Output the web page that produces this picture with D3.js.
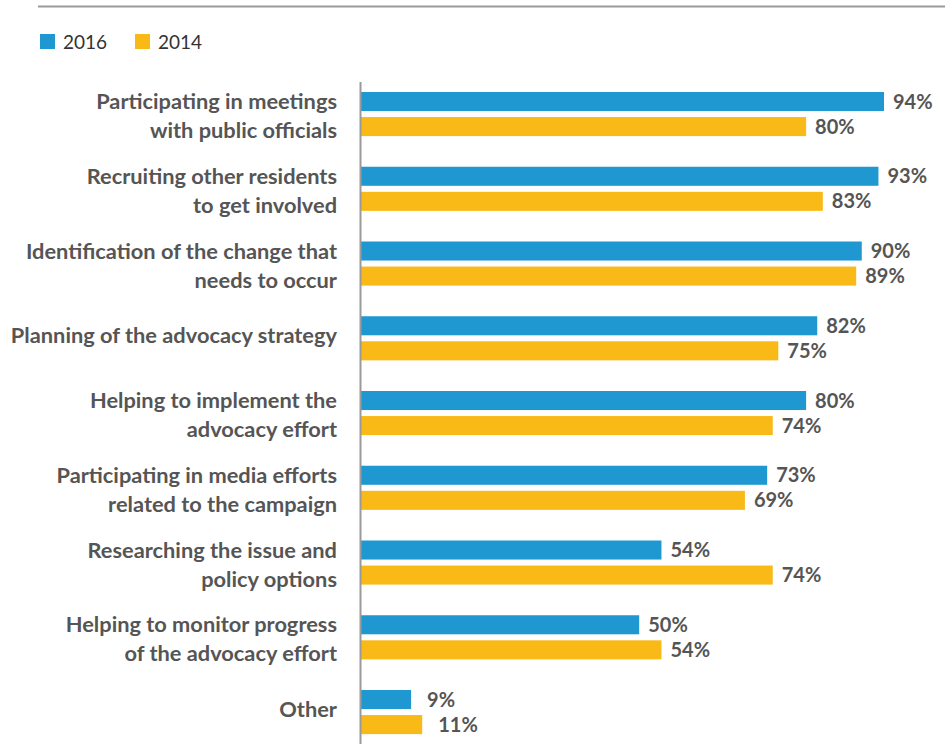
<!DOCTYPE html>
<html lang="en">
<head>
    <meta charset="UTF-8">
    <title>Advocacy activities 2016 vs 2014</title>
    <script src="https://d3js.org/d3.v7.min.js"></script>
    <style>
        body { margin: 0; background: #fff; }
        svg { display: block; }
        .cat { font-family: Lato, sans-serif; font-weight: 700; font-size: 21.8px; fill: #555; }
        .val { font-family: Lato, sans-serif; font-weight: 700; font-size: 20px; fill: #555; }
        .leg { font-family: Lato, sans-serif; font-size: 19px; fill: #333; }
    </style>
</head>
<body>
    <script>
        // Categories (label lines) and values
        const categories = [
            ["Participating in meetings", "with public officials"],
            ["Recruiting other residents", "to get involved"],
            ["Identification of the change that", "needs to occur"],
            ["Planning of the advocacy strategy"],
            ["Helping to implement the", "advocacy effort"],
            ["Participating in media efforts", "related to the campaign"],
            ["Researching the issue and", "policy options"],
            ["Helping to monitor progress", "of the advocacy effort"],
            ["Other"]
        ];
        const series = ["2016", "2014"];
        const values2016 = [94, 93, 90, 82, 80, 73, 54, 50, 9];
        const values2014 = [80, 83, 89, 75, 74, 69, 74, 54, 11];
        const colors = { "2016": "#1f98d2", "2014": "#f9b917" };

        const width = 945, height = 744;
        const svg = d3.select("body").append("svg")
            .attr("width", width)
            .attr("height", height);

        // Top rule
        svg.append("line")
            .attr("x1", 38).attr("x2", width)
            .attr("y1", 6.5).attr("y2", 6.5)
            .attr("stroke", "#9a9a9a")
            .attr("stroke-width", 2);

        // Legend
        const legend = svg.append("g").attr("transform", "translate(40,34)");
        const legItems = legend.selectAll("g")
            .data(series)
            .join("g")
            .attr("transform", (d, i) => `translate(${i * 95},0)`);
        legItems.append("rect")
            .attr("width", 15).attr("height", 15)
            .attr("fill", d => colors[d]);
        legItems.append("text")
            .attr("class", "leg")
            .attr("x", 23).attr("y", 15)
            .text(d => d);

        // Scales
        const x0 = 361;
        const x = d3.scaleLinear().domain([0, 100]).range([x0, x0 + 556.4]);

        const step = 74.75, pad = 0.41;
        const y = d3.scaleBand()
            .domain(d3.range(categories.length))
            .range([92, 92 + step * (categories.length - pad)])
            .paddingInner(pad)
            .paddingOuter(0);

        const yInner = d3.scaleBand()
            .domain(series)
            .range([0, y.bandwidth()])
            .paddingInner(0.24);

        const rows = categories.map((c, i) => ({
            i, label: c,
            vals: [{ s: "2016", v: values2016[i] }, { s: "2014", v: values2014[i] }]
        }));

        const groups = svg.selectAll("g.row")
            .data(rows)
            .join("g")
            .attr("class", "row")
            .attr("transform", d => `translate(0,${y(d.i)})`);

        groups.selectAll("rect")
            .data(d => d.vals)
            .join("rect")
            .attr("x", x(0))
            .attr("y", d => yInner(d.s))
            .attr("width", d => x(d.v) - x(0))
            .attr("height", yInner.bandwidth())
            .attr("fill", d => colors[d.s]);

        groups.selectAll("text.val")
            .data(d => d.vals)
            .join("text")
            .attr("class", "val")
            .attr("x", d => x(d.v) + (d.v < 20 ? 16 : 9))
            .attr("y", d => yInner(d.s) + yInner.bandwidth() / 2 + 7)
            .text(d => d.v + "%");

        // Category labels (baselines); two-line labels sit a little low
        const lineH = 29;
        groups.append("text")
            .attr("class", "cat")
            .attr("text-anchor", "end")
            .attr("x", 337)
            .attr("y", d => {
                const n = d.label.length - 1;
                return y.bandwidth() / 2 + 4.5 - n * lineH / 2 + n * 5;
            })
            .selectAll("tspan")
            .data(d => d.label)
            .join("tspan")
            .attr("x", 337)
            .attr("dy", (d, i) => i === 0 ? 0 : lineH)
            .text(d => d);

        // Axis line
        svg.append("line")
            .attr("x1", x(0) - 0.5).attr("x2", x(0) - 0.5)
            .attr("y1", 82).attr("y2", height)
            .attr("stroke", "#9a9a9a")
            .attr("stroke-width", 2);
    </script>
</body>
</html>
